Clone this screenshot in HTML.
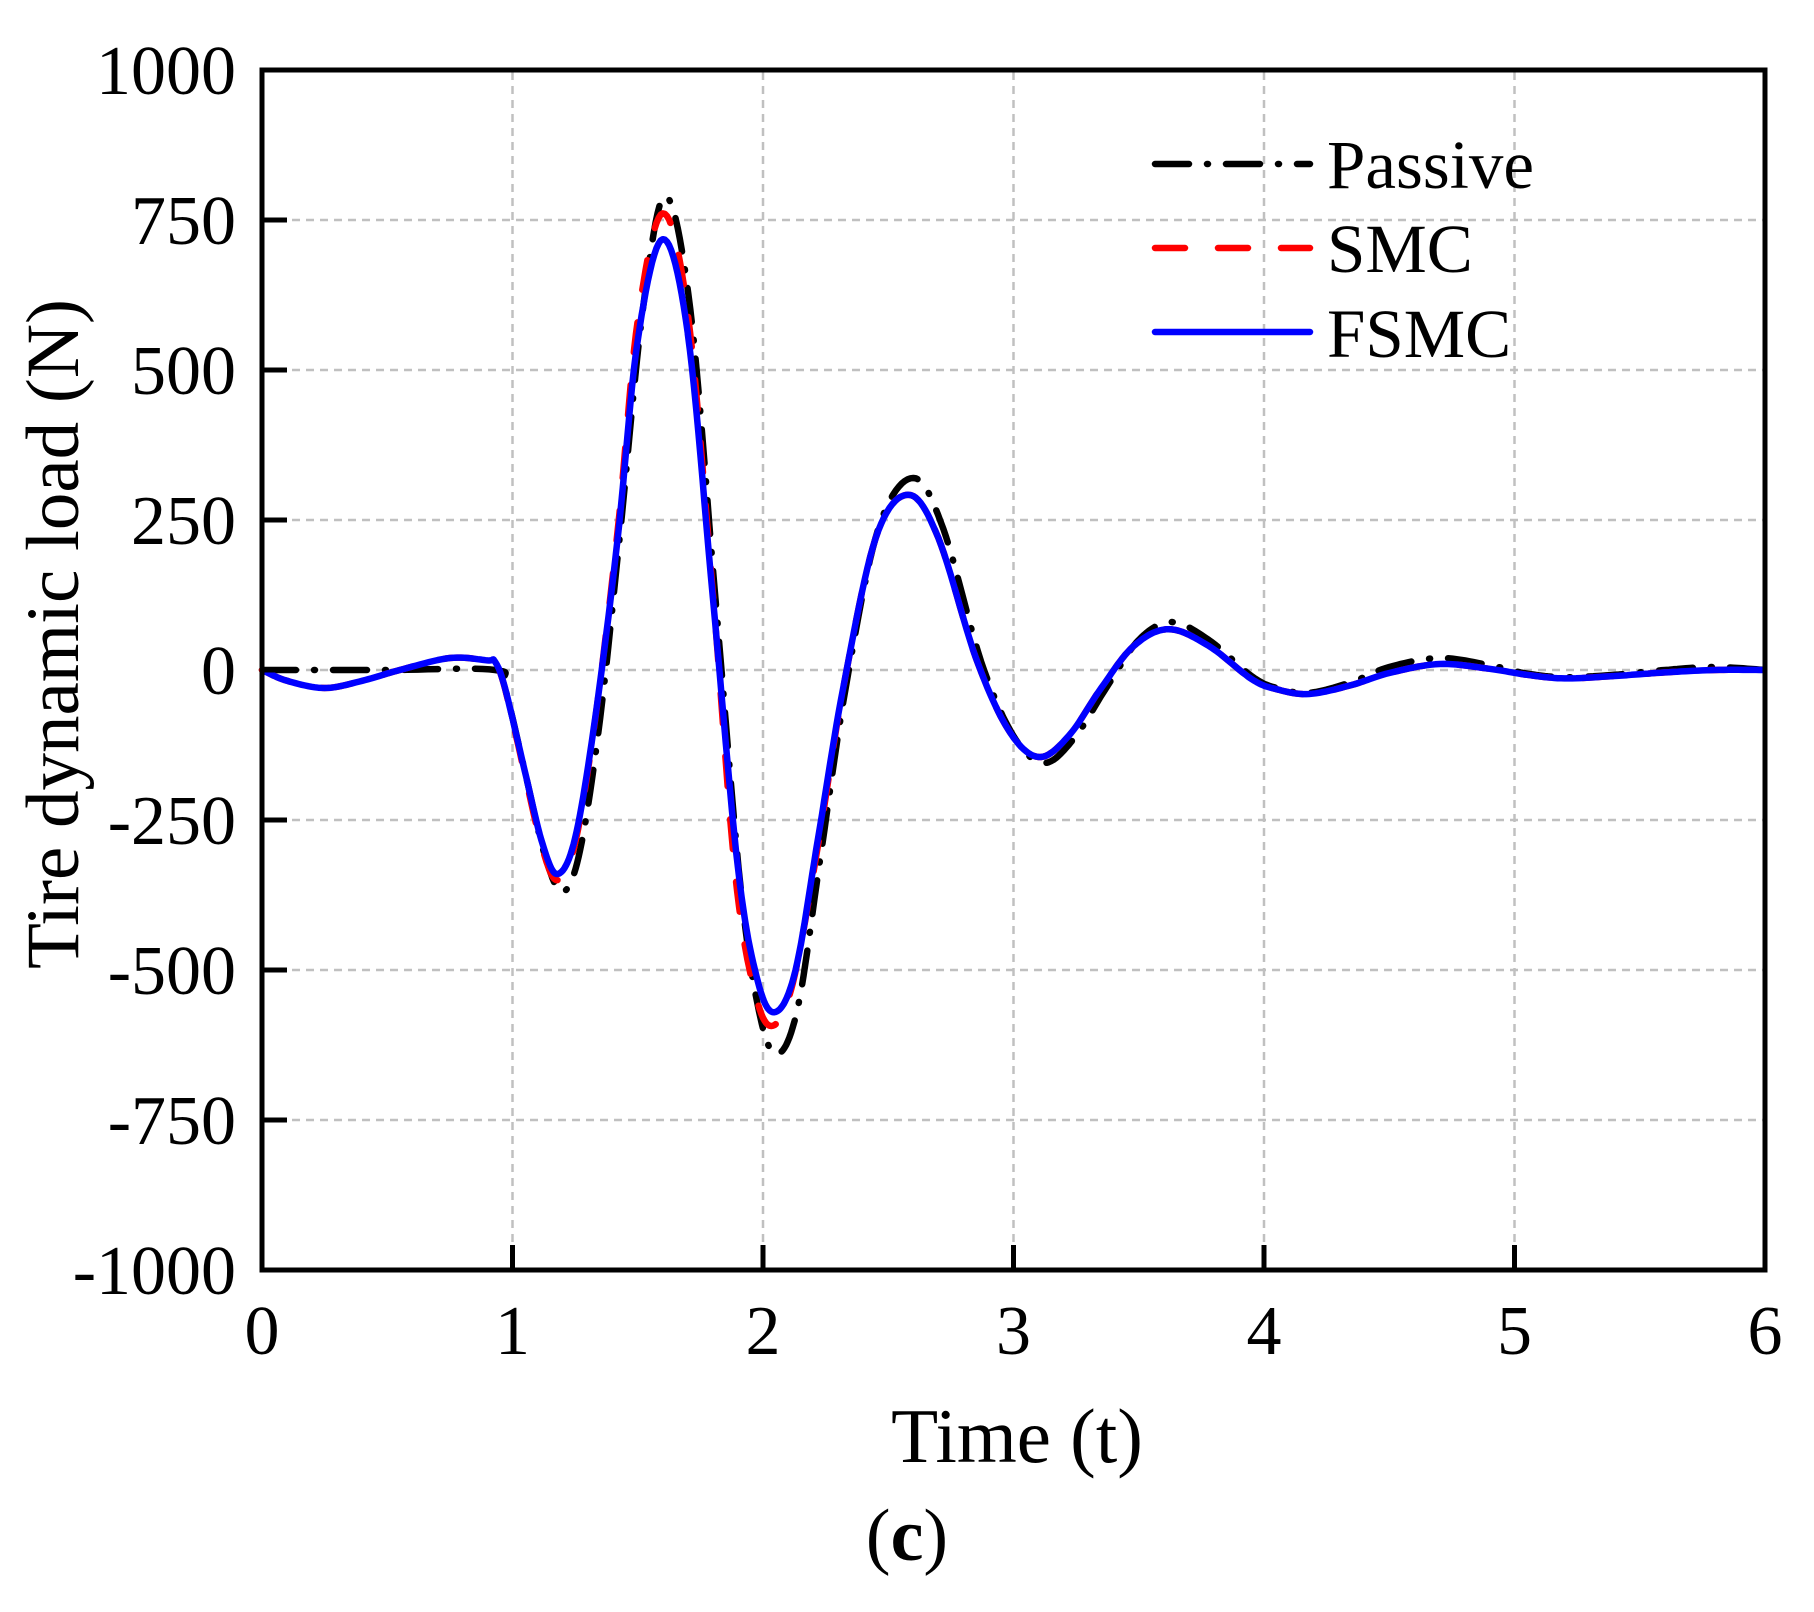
<!DOCTYPE html>
<html><head><meta charset="utf-8"><style>
html,body{margin:0;padding:0;background:#fff;}
svg{display:block;}
text{font-family:"Liberation Serif",serif;fill:#000;}
</style></head><body>
<svg id="s" width="1814" height="1612" viewBox="0 0 1814 1612" xmlns="http://www.w3.org/2000/svg">
<g id="grid" stroke="#c0c0c0" stroke-width="2.5" stroke-dasharray="8,6" fill="none"></g>
<g id="curves" fill="none" stroke-width="6.5" stroke-linejoin="round"></g>
<rect x="262" y="70" width="1503" height="1200" fill="none" stroke="#000" stroke-width="5"/>
<g id="ticks" stroke="#000" stroke-width="5"></g>
<g id="labels" font-size="70"></g>
<text x="1017" y="1462" font-size="77" text-anchor="middle">Time (t)</text>
<text transform="translate(78,634) rotate(-90)" font-size="75" text-anchor="middle">Tire dynamic load (N)</text>
<text x="907" y="1560" font-size="74" text-anchor="middle">(<tspan font-weight="bold">c</tspan>)</text>
<line x1="1155" y1="164" x2="1310" y2="164" stroke="#000" stroke-width="6.5" stroke-linecap="round" stroke-dasharray="34,18,1,18"/>
<line x1="1155" y1="248" x2="1310" y2="248" stroke="#f00" stroke-width="6.5" stroke-linecap="round" stroke-dasharray="30,33"/>
<line x1="1155" y1="332" x2="1310" y2="332" stroke="#00f" stroke-width="6.5" stroke-linecap="round"/>
<text x="1327" y="188" font-size="69">Passive</text>
<text x="1327" y="272" font-size="69">SMC</text>
<text x="1327" y="357" font-size="69">FSMC</text>
</svg>
<script>
var NS="http://www.w3.org/2000/svg";
function X(t){return 262+t*250.5;}
function Y(v){return 670-v*0.6;}
function el(p,n,a,txt){var e=document.createElementNS(NS,n);for(var k in a)e.setAttribute(k,a[k]);if(txt!=null)e.textContent=txt;p.appendChild(e);return e;}
var g=document.getElementById('grid'),tk=document.getElementById('ticks'),lb=document.getElementById('labels');
for(var i=1;i<6;i++){el(g,'line',{x1:X(i),y1:72,x2:X(i),y2:1268});}
for(var v=-750;v<=750;v+=250){el(g,'line',{x1:264,y1:Y(v),x2:1763,y2:Y(v)});}
for(var i=0;i<=6;i++){el(tk,'line',{x1:X(i),y1:1270,x2:X(i),y2:1245});el(lb,'text',{x:X(i),y:1354,'text-anchor':'middle'},String(i));}
for(var v=-1000;v<=1000;v+=250){el(tk,'line',{x1:262,y1:Y(v),x2:287,y2:Y(v)});el(lb,'text',{x:236,y:Y(v)+24,'text-anchor':'end'},String(v));}
function spline(pts){
  var d='';
  for(var i=0;i<pts.length-1;i++){
    var p0=pts[Math.max(0,i-1)],p1=pts[i],p2=pts[i+1],p3=pts[Math.min(pts.length-1,i+2)];
    for(var s=0;s<=12;s++){var t=s/12,t2=t*t,t3=t2*t;
      var f=function(a,b,c,d){return 0.5*((2*b)+(-a+c)*t+(2*a-5*b+4*c-d)*t2+(-a+3*b-3*c+d)*t3);};
      var x=f(p0[0],p1[0],p2[0],p3[0]),y=f(p0[1],p1[1],p2[1],p3[1]);
      d+=(d?'L':'M')+X(x).toFixed(1)+','+Y(y).toFixed(1);}
  }
  return d;
}
var fs=[[0,0],[0.1,-18],[0.25,-30],[0.4,-18],[0.55,0],[0.75,20],[0.9,16],[0.93,14],[0.97,-30],[1.05,-170],[1.12,-290],[1.18,-340],[1.25,-280],[1.33,-80],[1.42,220],[1.5,550],[1.6,718],[1.7,560],[1.8,120],[1.9,-330],[1.98,-520],[2.05,-570],[2.13,-500],[2.22,-280],[2.32,-30],[2.45,220],[2.58,292],[2.7,220],[2.85,20],[2.98,-100],[3.1,-145],[3.22,-110],[3.35,-30],[3.48,40],[3.62,68],[3.78,40],[3.95,-15],[4.05,-32],[4.18,-40],[4.35,-25],[4.5,-5],[4.7,10],[4.9,2],[5.05,-8],[5.2,-14],[5.4,-10],[5.6,-4],[5.8,0],[6,0]];
var smc=fs.map(function(p){var t=p[0],v=p[1];if(t>0.95&&t<2.4)v*= (v>0?1.06:(t>1.8?1.04:1.03));return [t+(t>1.8&&t<2.2?-0.01:0),v];});
var pas=[[0,0],[0.5,0],[0.93,0],[0.97,-30],[1.05,-170],[1.13,-310],[1.2,-370],[1.27,-300],[1.35,-80],[1.43,230],[1.52,600],[1.61,790],[1.71,600],[1.81,120],[1.91,-360],[1.99,-580],[2.06,-640],[2.14,-560],[2.23,-310],[2.33,-30],[2.46,235],[2.6,320],[2.72,235],[2.87,15],[3.0,-110],[3.12,-155],[3.24,-115],[3.37,-30],[3.5,50],[3.63,80],[3.78,50],[3.95,-10],[4.05,-30],[4.18,-38],[4.35,-20],[4.5,5],[4.7,20],[4.9,8],[5.05,-6],[5.2,-12],[5.4,-8],[5.6,0],[5.8,5],[6,0]];
var c=document.getElementById('curves');
el(c,'path',{d:spline(pas),stroke:'#000','stroke-dasharray':'34,18,1,18','stroke-linecap':'round'});
el(c,'path',{d:spline(smc),stroke:'#f00','stroke-dasharray':'30,33','stroke-linecap':'round'});
el(c,'path',{d:spline(fs),stroke:'#00f'});
</script>
</body></html>
